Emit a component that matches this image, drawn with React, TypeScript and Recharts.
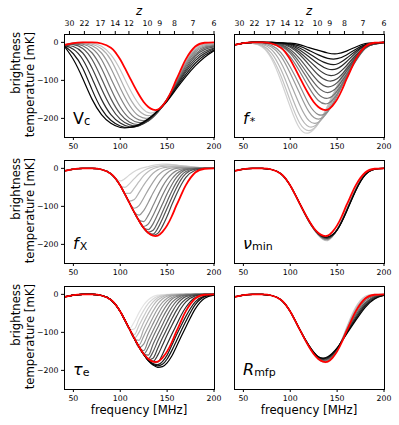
import React from 'react';
import { LineChart, Line, XAxis, YAxis } from 'recharts';

// ---- grids ----
const FREQ = [40, 50, 60, 70, 80, 90, 95, 100, 105, 110, 115, 120, 125, 130, 135, 140, 145, 150, 155, 160, 165, 170, 180, 190, 200];
const FREQ_COARSE = [40, 50, 60, 70, 80, 90, 100, 110, 120, 130, 140, 150, 160, 170, 180, 190, 200];

const X_TICKS = [50, 100, 150, 200];
const Y_TICKS = [0, -100, -200];
const Z_TICKS = [30, 22, 17, 14, 12, 10, 9, 8, 7, 6];

// fiducial model (red), on FREQ
const FIDUCIAL = [-7, -2, 0, 0, -3, -14, -27, -45, -68, -92, -116, -138, -157, -170, -177, -177, -167, -150, -126, -97, -70, -44, -11, -1, 0];

// ---- V_c (FREQ_COARSE), dark -> light ----
const VC_CURVES = [
  [-9, -45, -95, -150, -190, -213, -224, -224, -216, -201, -181, -155, -122, -90, -62, -39, -22],
  [-8, -30, -68, -125, -175, -205, -220, -224, -218, -202, -180, -153, -118, -84, -55, -34, -20],
  [-8, -18, -45, -95, -150, -190, -212, -222, -219, -204, -180, -152, -115, -78, -48, -29, -17],
  [-7, -11, -28, -68, -122, -170, -202, -217, -219, -206, -181, -151, -113, -73, -42, -24, -15],
  [-7, -6, -16, -45, -95, -148, -188, -210, -216, -207, -183, -150, -110, -68, -36, -19, -12],
  [-7, -4, -9, -28, -68, -122, -170, -200, -211, -206, -184, -150, -108, -63, -31, -15, -10],
  [-7, -3, -5, -16, -45, -95, -145, -185, -204, -203, -184, -150, -106, -59, -26, -12, -8],
  [-7, -2, -3, -9, -28, -68, -120, -166, -194, -199, -183, -149, -104, -55, -22, -9, -6],
  [-7, -2, -1, -5, -17, -46, -96, -146, -180, -193, -181, -149, -103, -52, -19, -6, -4],
  [-7, -2, 0, -2, -10, -32, -72, -122, -163, -185, -178, -148, -102, -50, -16, -4, -2],
];

// ---- f_* (FREQ_COARSE), dark (shallow) -> light (deep) ----
const FSTAR_CURVES = [
  [-7, -2, 0, 0, 0, -1, -2, -6, -14, -21, -28, -30, -23, -12, -3, -1, 0],
  [-7, -2, 0, 0, 0, -1, -4, -10, -21, -33, -42, -43, -33, -18, -6, -1, 0],
  [-7, -2, 0, 0, 0, -2, -5, -15, -29, -45, -56, -57, -42, -23, -8, -2, 0],
  [-7, -2, 0, 0, -1, -2, -7, -20, -38, -57, -70, -69, -51, -27, -9, -2, 0],
  [-7, -2, 0, 0, -1, -3, -10, -26, -48, -71, -86, -83, -61, -34, -13, -3, 0],
  [-7, -2, 0, 0, -1, -4, -13, -32, -59, -86, -101, -96, -70, -39, -13, -4, -1],
  [-7, -2, 0, 0, -2, -6, -19, -43, -74, -103, -117, -106, -76, -43, -14, -5, -1],
  [-7, -2, 0, 0, -2, -8, -24, -53, -88, -119, -132, -118, -84, -47, -15, -5, -1],
  [-7, -2, 0, 0, -3, -10, -29, -63, -102, -136, -147, -128, -90, -49, -16, -4, -1],
  [-7, -2, 0, 0, -4, -14, -38, -76, -119, -153, -161, -136, -91, -47, -15, -4, -1],
  [-7, -2, 0, -1, -8, -27, -65, -113, -163, -190, -182, -142, -90, -44, -14, -3, -1],
  [-7, -2, 0, -3, -12, -36, -81, -134, -183, -202, -183, -136, -83, -38, -13, -4, -1],
  [-7, -2, -1, -5, -19, -53, -106, -164, -206, -210, -179, -126, -75, -34, -11, -3, -1],
  [-7, -2, -2, -8, -28, -71, -132, -192, -222, -212, -173, -119, -69, -31, -11, -3, -1],
  [-7, -2, -3, -10, -38, -88, -154, -212, -232, -213, -167, -114, -65, -29, -10, -3, -1],
  [-7, -2, -3, -12, -43, -101, -170, -226, -238, -214, -167, -114, -66, -29, -11, -3, -1],
];

// ---- f_X (FREQ), light (shallow) -> dark ----
const FX_CURVES = [
  [-7, -2, 0, 0, -3, -14, -27, -33, -27, -17, -8, -2, 2, 5, 8, 10, 11, 11, 10, 9, 7, 6, 3, 1, 0],
  [-7, -2, 0, 0, -3, -14, -27, -45, -50, -40, -27, -15, -6, 0, 4, 6, 8, 9, 9, 8, 7, 6, 3, 1, 0],
  [-7, -2, 0, 0, -3, -14, -27, -45, -66, -66, -52, -35, -19, -8, -1, 3, 5, 6, 6, 6, 5, 4, 2, 1, 0],
  [-7, -2, 0, 0, -3, -14, -27, -45, -68, -86, -82, -64, -44, -27, -13, -4, 1, 3, 4, 4, 4, 3, 2, 1, 0],
  [-7, -2, 0, 0, -3, -14, -27, -45, -68, -91, -105, -98, -78, -56, -36, -19, -8, -2, 1, 2, 2, 2, 1, 0, 0],
  [-7, -2, 0, 0, -3, -14, -27, -45, -68, -92, -115, -123, -111, -89, -65, -43, -25, -12, -4, 0, 1, 1, 1, 0, 0],
  [-7, -2, 0, 0, -3, -14, -27, -45, -68, -92, -116, -136, -140, -123, -98, -72, -48, -29, -15, -6, -2, 0, 0, 0, 0],
  [-7, -2, 0, 0, -3, -14, -27, -45, -68, -92, -116, -138, -153, -146, -124, -98, -71, -47, -28, -14, -6, -2, 0, 0, 0],
  [-7, -2, 0, 0, -3, -14, -27, -45, -68, -92, -116, -138, -157, -161, -146, -121, -94, -67, -43, -24, -11, -4, 0, 0, 0],
  [-7, -2, 0, 0, -3, -14, -27, -45, -68, -92, -116, -138, -157, -168, -163, -142, -115, -87, -60, -37, -19, -8, -1, 0, 0],
  [-7, -2, 0, 0, -3, -14, -27, -45, -68, -92, -116, -138, -157, -170, -173, -158, -133, -105, -77, -51, -29, -14, -2, 0, 0],
  [-7, -2, 0, 0, -3, -14, -27, -45, -68, -92, -116, -138, -157, -170, -176, -171, -152, -126, -96, -68, -43, -24, -5, 0, 0],
];

// ---- nu_min (FREQ_COARSE), dark -> light ----
const NUMIN_CURVES = [
  [-7, -2, 0, 0, -3, -14, -45, -92, -138, -171, -180, -162, -114, -58, -17, -2, 0],
  [-7, -2, 0, 0, -3, -14, -45, -92, -139, -172, -182, -162, -113, -57, -17, -2, 0],
  [-7, -2, 0, 0, -3, -14, -45, -92, -139, -173, -184, -162, -112, -56, -16, -2, 0],
  [-7, -2, 0, 0, -3, -14, -45, -93, -140, -174, -186, -162, -111, -55, -16, -2, 0],
  [-7, -2, 0, 0, -3, -14, -45, -93, -140, -175, -188, -161, -110, -54, -15, -2, 0],
  [-7, -2, 0, 0, -3, -14, -45, -93, -141, -176, -190, -160, -108, -52, -14, -1, 0],
];

// ---- tau_e (FREQ), light -> dark ----
const TAU_CURVES = [
  [-7, -2, 0, 0, -3, -14, -27, -45, -68, -90, -72, -48, -28, -14, -6, -2, -1, 0, 0, 0, 0, 0, 0, 0, 0],
  [-7, -2, 0, 0, -3, -14, -27, -45, -68, -93, -91, -65, -42, -24, -12, -5, -2, -1, 0, 0, 0, 0, 0, 0, 0],
  [-7, -2, 0, 0, -3, -14, -27, -45, -68, -92, -106, -82, -58, -36, -20, -9, -4, -1, 0, 0, 0, 0, 0, 0, 0],
  [-7, -2, 0, 0, -3, -14, -27, -45, -68, -92, -115, -100, -74, -50, -30, -15, -7, -2, -1, 0, 0, 0, 0, 0, 0],
  [-7, -2, 0, 0, -3, -14, -27, -45, -68, -92, -117, -121, -92, -67, -44, -25, -12, -5, -2, -1, 0, 0, 0, 0, 0],
  [-7, -2, 0, 0, -3, -14, -27, -45, -68, -92, -116, -133, -110, -85, -60, -38, -21, -10, -4, -2, -1, 0, 0, 0, 0],
  [-7, -2, 0, 0, -3, -14, -27, -45, -68, -92, -116, -140, -131, -102, -77, -53, -32, -17, -8, -3, -1, 0, 0, 0, 0],
  [-7, -2, 0, 0, -3, -14, -27, -45, -68, -92, -116, -138, -148, -121, -95, -70, -46, -27, -13, -6, -2, -1, 0, 0, 0],
  [-7, -2, 0, 0, -3, -14, -27, -45, -68, -92, -116, -138, -157, -139, -112, -87, -62, -40, -22, -11, -4, -2, 0, 0, 0],
  [-7, -2, 0, 0, -3, -14, -27, -45, -68, -92, -116, -138, -157, -160, -131, -105, -80, -55, -34, -18, -8, -3, 0, 0, 0],
  [-7, -2, 0, 0, -3, -14, -27, -45, -68, -92, -116, -138, -157, -169, -151, -123, -97, -72, -48, -28, -14, -6, -1, 0, 0],
  [-7, -2, 0, 0, -3, -14, -27, -45, -68, -92, -116, -138, -157, -172, -168, -142, -115, -90, -65, -42, -24, -12, -2, 0, 0],
  [-7, -2, 0, 0, -3, -14, -27, -45, -68, -92, -116, -138, -157, -172, -176, -160, -134, -107, -82, -58, -36, -20, -4, 0, 0],
  [-7, -2, 0, 0, -3, -14, -27, -45, -68, -92, -116, -138, -157, -172, -177, -178, -158, -131, -105, -80, -55, -34, -8, -1, 0],
  [-7, -2, 0, 0, -3, -14, -27, -45, -68, -92, -116, -138, -158, -173, -182, -185, -177, -160, -134, -107, -82, -58, -20, -4, 0],
  [-7, -2, 0, 0, -3, -14, -27, -45, -68, -92, -116, -138, -158, -174, -184, -188, -184, -170, -148, -122, -96, -71, -27, -6, -1],
  [-7, -2, 0, 0, -3, -14, -27, -45, -68, -92, -116, -138, -158, -175, -186, -192, -190, -180, -162, -137, -111, -86, -38, -10, -2],
];

// ---- R_mfp (FREQ_COARSE), light -> dark ----
const RMFP_CURVES = [
  [-7, -2, 0, 0, -3, -14, -45, -92, -138, -171, -178, -148, -88, -33, -5, 0, 0],
  [-7, -2, 0, 0, -3, -14, -45, -92, -138, -170, -176, -147, -91, -38, -9, -1, 0],
  [-7, -2, 0, 0, -3, -14, -45, -92, -137, -169, -174, -146, -94, -44, -13, -2, 0],
  [-7, -2, 0, 0, -3, -14, -45, -92, -137, -168, -172, -145, -97, -50, -17, -4, -1],
  [-7, -2, 0, 0, -3, -14, -45, -92, -136, -167, -170, -144, -99, -55, -22, -6, -1],
  [-7, -2, 0, 0, -3, -14, -45, -92, -136, -166, -168, -143, -101, -60, -26, -8, -2],
  [-7, -2, 0, 0, -3, -14, -45, -92, -135, -165, -166, -142, -103, -64, -30, -10, -2],
  [-7, -2, 0, 0, -3, -14, -45, -92, -135, -164, -164, -141, -105, -68, -34, -12, -3],
];

// ---- styling helpers ----
function grays(n: number, from: number, to: number): string[] {
  return Array.from({ length: n }, (_, i) => {
    const v = Math.round(from + (to - from) * (n === 1 ? 0 : i / (n - 1)));
    return `rgb(${v},${v},${v})`;
  });
}

function buildRows(curves: number[][], coarse: boolean) {
  return FREQ.map((f, i) => {
    const row: Record<string, number | null> = { f, red: FIDUCIAL[i] };
    const ci = FREQ_COARSE.indexOf(f);
    curves.forEach((c, j) => {
      row['s' + j] = coarse ? (ci >= 0 ? c[ci] : null) : c[i];
    });
    return row;
  });
}

const Z_FREQ = Z_TICKS.map((z) => Math.min(200, 1420.4 / (1 + z)));
const fmtY = (v: number | string) => {
  const n = Number(v);
  return n < 0 ? '\u2212' + String(Math.abs(n)) : String(n);
};

const FONT = '"DejaVu Sans", sans-serif';
const TICK_FS = 7.8;
const LABEL_FS = 11.7;
const PW = 150;
const PH = 103;
const COLS = [64, 234];
const ROWS = [34, 160, 286];

type PanelProps = {
  curves: number[][];
  coarse: boolean;
  colors: string[];
  order: number[];
  fx: number;
  fy: number;
  leftLabels: boolean;
  top: boolean;
  grayType: 'natural' | 'monotone';
};

function YTick(props: any) {
  const { x, y, payload } = props;
  return (
    <text x={x} y={y} dy="0.36em" textAnchor="end" fontSize={TICK_FS} fontFamily={FONT} fill="#000">
      {fmtY(payload.value)}
    </text>
  );
}

function Panel({ curves, coarse, colors, order, fx, fy, leftLabels, top, grayType }: PanelProps) {
  const rows = buildRows(curves, coarse);
  const L = 44;
  const R = 16;
  const TOP = top ? 34 : 4;
  const B = 22;
  const W = L + PW + R;
  const H = TOP + PH + B;
  const tickStyle = { fill: '#000', fontSize: TICK_FS, fontFamily: FONT };
  return (
    <div style={{ position: 'absolute', left: fx - L, top: fy - TOP, width: W, height: H }}>
      <LineChart width={W} height={H} data={rows} margin={{ top: top ? 0 : 4, right: R, bottom: 0, left: 0 }}>
        <XAxis
          dataKey="f"
          type="number"
          domain={[40, 200]}
          ticks={X_TICKS}
          interval={0}
          height={B}
          tickSize={3}
          tickMargin={3.5}
          axisLine={false}
          tickLine={{ stroke: '#000' }}
          tick={tickStyle}
          allowDataOverflow
        />
        {top && (
          <XAxis
            xAxisId="top"
            dataKey="f"
            orientation="top"
            type="number"
            domain={[40, 200]}
            ticks={Z_FREQ}
            interval={0}
            height={34}
            tickSize={3}
            tickMargin={5}
            axisLine={false}
            tickLine={{ stroke: '#000' }}
            tick={tickStyle}
            tickFormatter={(_v: number, i: number) => String(Z_TICKS[i])}
            allowDataOverflow
          />
        )}
        <YAxis
          type="number"
          domain={[-249, 22]}
          ticks={Y_TICKS}
          interval={0}
          width={L}
          tickSize={3}
          tickMargin={2.5}
          axisLine={false}
          tickLine={{ stroke: '#000' }}
          tick={leftLabels ? <YTick /> : false}
          allowDataOverflow
        />
        {order.map((j) => (
          <Line
            key={j}
            dataKey={'s' + j}
            type={grayType}
            stroke={colors[j]}
            strokeWidth={1.2}
            dot={false}
            activeDot={false}
            connectNulls
            isAnimationActive={false}
          />
        ))}
        {top && (
          <Line
            xAxisId="top"
            dataKey="red"
            type="natural"
            stroke="none"
            strokeOpacity={0}
            dot={false}
            activeDot={false}
            isAnimationActive={false}
          />
        )}
        <Line
          dataKey="red"
          type="natural"
          stroke="#ff0000"
          strokeWidth={1.8}
          dot={false}
          activeDot={false}
          isAnimationActive={false}
        />
      </LineChart>
      <div
        style={{
          position: 'absolute',
          left: L,
          top: TOP,
          width: PW + 1,
          height: PH + 1,
          border: '1px solid #000',
          boxSizing: 'border-box',
          pointerEvents: 'none',
        }}
      />
    </div>
  );
}

const range = (n: number) => Array.from({ length: n }, (_, i) => i);
const rev = (n: number) => range(n).reverse();

export default function App() {
  const vcColors = grays(VC_CURVES.length, 0, 196);
  const fsColors = grays(FSTAR_CURVES.length, 0, 210);
  const fxColors = grays(FX_CURVES.length, 214, 70);
  const nuColors = grays(NUMIN_CURVES.length, 0, 200);
  const tauColors = grays(TAU_CURVES.length, 228, 0);
  const rmColors = grays(RMFP_CURVES.length, 205, 0);

  const rowCenters = ROWS.map((y) => y + PH / 2 - 1.5);
  const halfTemp = 52;

  return (
    <div style={{ position: 'absolute', left: 0, top: 0, width: 399, height: 425, background: '#fff', fontFamily: FONT }}>
      <Panel curves={VC_CURVES} coarse colors={vcColors} order={rev(VC_CURVES.length)} fx={COLS[0]} fy={ROWS[0]} leftLabels top grayType="natural" />
      <Panel curves={FSTAR_CURVES} coarse colors={fsColors} order={rev(FSTAR_CURVES.length)} fx={COLS[1]} fy={ROWS[0]} leftLabels={false} top grayType="natural" />
      <Panel curves={FX_CURVES} coarse={false} colors={fxColors} order={range(FX_CURVES.length)} fx={COLS[0]} fy={ROWS[1]} leftLabels top={false} grayType="monotone" />
      <Panel curves={NUMIN_CURVES} coarse colors={nuColors} order={rev(NUMIN_CURVES.length)} fx={COLS[1]} fy={ROWS[1]} leftLabels={false} top={false} grayType="natural" />
      <Panel curves={TAU_CURVES} coarse={false} colors={tauColors} order={range(TAU_CURVES.length)} fx={COLS[0]} fy={ROWS[2]} leftLabels top={false} grayType="monotone" />
      <Panel curves={RMFP_CURVES} coarse colors={rmColors} order={range(RMFP_CURVES.length)} fx={COLS[1]} fy={ROWS[2]} leftLabels={false} top={false} grayType="natural" />

      <svg width={399} height={425} style={{ position: 'absolute', left: 0, top: 0, pointerEvents: 'none' }} fontFamily={FONT}>
        {COLS.map((x) => (
          <text key={'z' + x} x={x + PW / 2} y={15} fontSize={LABEL_FS} fontStyle="italic" textAnchor="middle" fill="#000">
            z
          </text>
        ))}
        {rowCenters.map((cy) => (
          <g key={'yl' + cy}>
            <text transform={`translate(19.5,${cy}) rotate(-90)`} x={halfTemp} fontSize={LABEL_FS} textAnchor="end" fill="#000">
              brightness
            </text>
            <text transform={`translate(33.5,${cy}) rotate(-90)`} x={halfTemp} fontSize={LABEL_FS} textAnchor="end" fill="#000">
              temperature [mK]
            </text>
          </g>
        ))}
        {COLS.map((x) => (
          <text key={'xl' + x} x={x + PW / 2} y={414} fontSize={LABEL_FS} textAnchor="middle" fill="#000">
            frequency [MHz]
          </text>
        ))}
        <text x={73} y={123.5} fontSize={16} fill="#000">
          V<tspan fontSize={11.5} dy={1.5}>c</tspan>
        </text>
        <text x={243} y={123.5} fontSize={16} fill="#000">
          <tspan fontStyle="italic">f</tspan>
          <tspan fontSize={11} dy={1.5} dx={1}>*</tspan>
        </text>
        <text x={73} y={248.5} fontSize={16} fill="#000">
          <tspan fontStyle="italic">f</tspan>
          <tspan fontSize={11} dy={1.5} dx={1}>X</tspan>
        </text>
        <text x={243} y={248.5} fontSize={16} fill="#000">
          <tspan fontStyle="italic">ν</tspan>
          <tspan fontSize={11} dy={1.5}>min</tspan>
        </text>
        <text x={73} y={374.5} fontSize={16} fill="#000">
          <tspan fontStyle="italic">τ</tspan>
          <tspan fontSize={11} dy={1.5}>e</tspan>
        </text>
        <text x={243} y={374.5} fontSize={16} fill="#000">
          <tspan fontStyle="italic">R</tspan>
          <tspan fontSize={11} dy={1.5}>mfp</tspan>
        </text>
      </svg>
    </div>
  );
}
